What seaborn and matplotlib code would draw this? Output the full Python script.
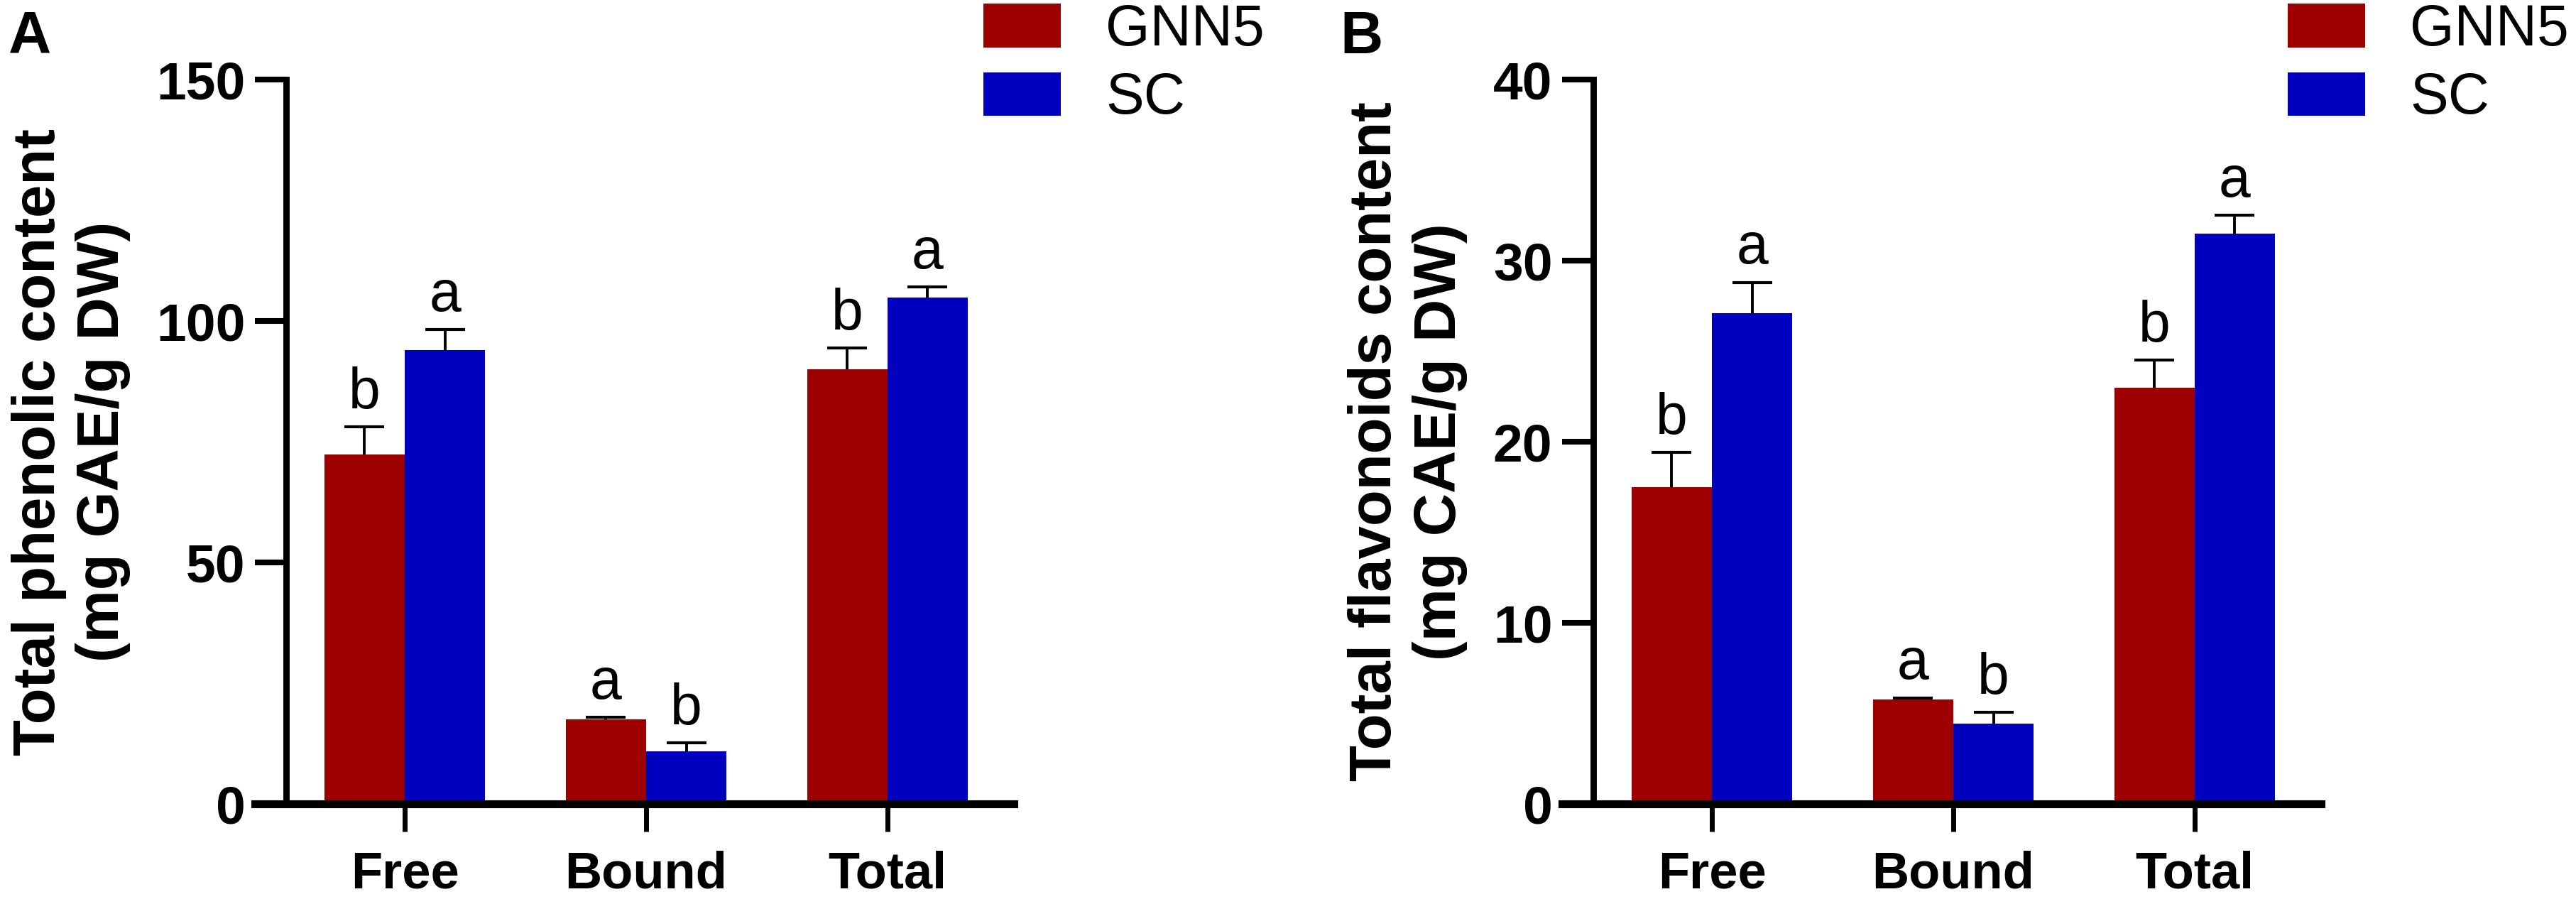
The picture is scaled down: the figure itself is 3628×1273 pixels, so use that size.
import matplotlib
matplotlib.use('Agg')
import matplotlib.pyplot as plt
import seaborn as sns
import pandas as pd

# valeurs
fractions = ['Free', 'Bound', 'Total']
cultivars = ['GNN5', 'SC']

phenol_gnn5 = [72.3, 17.5, 90.0]
phenol_gnn5_err = [5.8, 0.4, 4.4]
phenol_sc = [94.0, 10.9, 104.9]
phenol_sc_err = [4.2, 1.7, 2.1]

flavo_gnn5 = [17.5, 5.75, 23.0]
flavo_gnn5_err = [1.9, 0.1, 1.5]
flavo_sc = [27.1, 4.43, 31.5]
flavo_sc_err = [1.7, 0.63, 1.0]

lettres_gnn5 = ['b', 'a', 'b']
lettres_sc = ['a', 'b', 'a']

couleurs = {'GNN5': '#9e0000', 'SC': '#0000bf'}

sns.set_style('ticks')
plt.rcParams['font.family'] = ['Liberation Sans', 'DejaVu Sans']
for cle in ['text.color', 'axes.labelcolor', 'xtick.color', 'ytick.color', 'axes.edgecolor']:
    plt.rcParams[cle] = 'black'

W, H = 3628, 1273
fig = plt.figure(figsize=(W / 200, H / 200), dpi=200)


def panneau(rect, gnn5, gnn5_err, sc, sc_err, ymax, pas, ylabel, leg_xy):
    ax = fig.add_axes(rect)
    df = pd.DataFrame({
        'fraction': fractions * 2,
        'cultivar': ['GNN5'] * 3 + ['SC'] * 3,
        'valeur': gnn5 + sc,
    })
    sns.barplot(data=df, x='fraction', y='valeur', hue='cultivar', order=fractions,
                hue_order=cultivars, palette=couleurs, saturation=1, width=0.666,
                gap=0, errorbar=None, legend=False, ax=ax, zorder=1, linewidth=0)

    for cont, err, lettres in zip(ax.containers, [gnn5_err, sc_err], [lettres_gnn5, lettres_sc]):
        xs = [p.get_x() + p.get_width() / 2 for p in cont]
        ys = [p.get_height() for p in cont]
        eb = ax.errorbar(xs, ys, yerr=[[0] * 3, err], fmt='none', ecolor='black',
                         elinewidth=1.4, capsize=10, capthick=1.5, zorder=3)
        # pas de barre du bas (erreur vers le haut seulement)
        eb[1][0].set_visible(False)
        for x, y, e, l in zip(xs, ys, err, lettres):
            ax.annotate(l, (x, y + e), xytext=(0, 9.5), textcoords='offset points',
                        ha='center', va='baseline', fontsize=29)

    ax.set_xlim(-0.621, 2.524)
    ax.set_ylim(0, ymax)
    ax.set_yticks(range(0, ymax + 1, pas))
    ax.spines['left'].set_position(('data', -0.491))
    ax.spines['left'].set_linewidth(3.2)
    ax.spines['bottom'].set_linewidth(4)
    ax.spines['left'].set_zorder(4)
    ax.spines['bottom'].set_zorder(4)
    sns.despine(ax=ax)
    ax.tick_params(axis='y', length=15.8, width=2.9, pad=5, labelsize=27)
    ax.tick_params(axis='x', length=14, width=2.5, pad=9.5, labelsize=26)
    for t in ax.get_xticklabels() + ax.get_yticklabels():
        t.set_fontweight('bold')
    ax.set_xlabel('')
    ax.set_ylabel(ylabel, fontsize=30, fontweight='bold', labelpad=13, linespacing=1.2)

    ax.legend(ax.containers, cultivars, loc='upper left', bbox_to_anchor=leg_xy,
              bbox_transform=fig.transFigure, frameon=False, fontsize=29,
              handlelength=1.35, handleheight=0.79, handletextpad=0.79,
              labelspacing=0.25, borderpad=0, borderaxespad=0)
    return ax


ax_a = panneau([359 / W, 1 - 1132 / H, 1069 / W, 1020 / H],
               phenol_gnn5, phenol_gnn5_err, phenol_sc, phenol_sc_err, 150, 50,
               'Total phenolic content\n(mg GAE/g DW)', (1385 / W, 1 - 5 / H))
ax_b = panneau([2200 / W, 1 - 1132 / H, 1069 / W, 1020 / H],
               flavo_gnn5, flavo_gnn5_err, flavo_sc, flavo_sc_err, 40, 10,
               'Total flavonoids content\n(mg CAE/g DW)', (3222 / W, 1 - 5 / H))

fig.text(12 / W, 1 - 14 / H, 'A', fontsize=30, fontweight='bold', ha='left', va='top')
fig.text(1887 / W, 1 - 14 / H, 'B', fontsize=30, fontweight='bold', ha='left', va='top')

fig.savefig('out.png', dpi=200)
